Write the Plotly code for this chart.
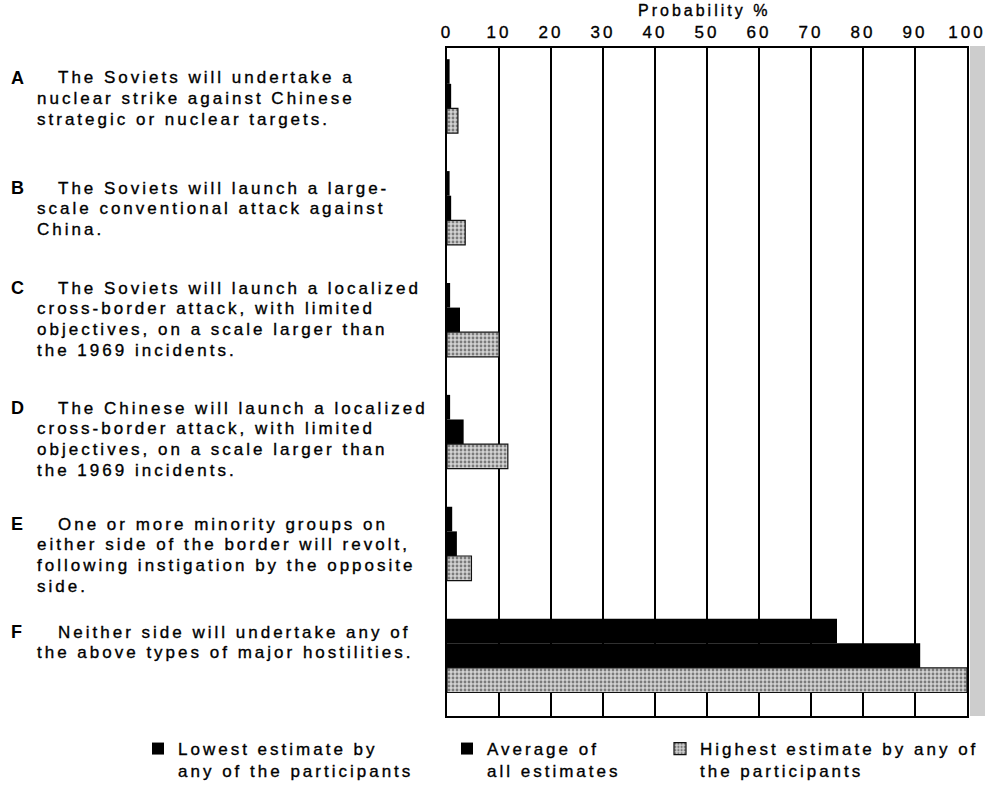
import plotly.graph_objects as go

# ---------------- data ----------------
CATEGORIES = ["A", "B", "C", "D", "E", "F"]
STATEMENTS = [
    ["The Soviets will undertake a", "nuclear strike against Chinese", "strategic or nuclear targets."],
    ["The Soviets will launch a large-", "scale conventional attack against", "China."],
    ["The Soviets will launch a localized", "cross-border attack, with limited",
     "objectives, on a scale larger than", "the 1969 incidents."],
    ["The Chinese will launch a localized", "cross-border attack, with limited",
     "objectives, on a scale larger than", "the 1969 incidents."],
    ["One or more minority groups on", "either side of the border will revolt,",
     "following instigation by the opposite", "side."],
    ["Neither side will undertake any of", "the above types of major hostilities."],
]
LOWEST = [0.5, 0.5, 0.6, 0.6, 1.0, 75]
AVERAGE = [0.8, 0.8, 2.5, 3.2, 1.9, 91]
HIGHEST = [2.1, 3.5, 10.0, 11.7, 4.7, 100]
SERIES_NAMES = [
    ["Lowest estimate by", "any of the participants"],
    ["Average of", "all estimates"],
    ["Highest estimate by any of", "the participants"],
]
TICK_VALUES = [0, 10, 20, 30, 40, 50, 60, 70, 80, 90, 100]
TICK_LABELS = ["0", "10", "20", "30", "40", "50", "60", "70", "80", "90", "100"]
AXIS_TITLE = "Probability %"

# ---------------- layout helpers ----------------
FONT = "Liberation Sans, Arial, Helvetica, sans-serif"
FS = 17
LS = 3.0  # letter spacing px (wide typesetting)
W, H = 985, 787
PL, PR, PT, PB = 447, 967, 48, 716
LINE_GAP = 20.8


def sp(s, ls=LS):
    return f"<span style='letter-spacing:{ls}px;stroke:#000;stroke-width:0.35px'>{s}</span>"


def lines(ls_):
    return "<br>".join(sp(s) for s in ls_)


def px(x):
    return (x - PL) / (PR - PL)


def py(y):
    return (PB - y) / (PB - PT)


fig = go.Figure()

fig.add_trace(go.Bar(
    y=CATEGORIES, x=LOWEST, orientation="h", name=lines(SERIES_NAMES[0]),
    marker=dict(color="#000000", line=dict(width=0)), legend="legend",
))
fig.add_trace(go.Bar(
    y=CATEGORIES, x=AVERAGE, orientation="h", name=lines(SERIES_NAMES[1]),
    marker=dict(color="#000000", line=dict(width=0)), legend="legend2",
))
fig.add_trace(go.Bar(
    y=CATEGORIES, x=HIGHEST, orientation="h", name=lines(SERIES_NAMES[2]),
    marker=dict(color="#c8c8c8", line=dict(width=1.2, color="#111111"),
                pattern=dict(shape=".", fgcolor="#222222", bgcolor="#d2d2d2",
                             size=4, solidity=0.4)),
    legend="legend3",
))

annotations = []
first_line_y = [78, 188, 288, 408, 524, 632]
for cat, stmt, fy in zip(CATEGORIES, STATEMENTS, first_line_y):
    annotations.append(dict(
        text=f"<b>{cat}</b>", x=px(9), y=py(fy), xref="paper", yref="paper",
        xanchor="left", yanchor="middle", showarrow=False,
        font=dict(family=FONT, size=18, color="#000"),
    ))
    for k, line in enumerate(stmt):
        annotations.append(dict(
            text=sp(line), x=px(56 if k == 0 else 35), y=py(fy + k * LINE_GAP),
            xref="paper", yref="paper", xanchor="left", yanchor="middle",
            align="left", showarrow=False,
            font=dict(family=FONT, size=FS, color="#000"),
        ))

# axis title as a centred label above the tick labels
annotations.append(dict(
    text=sp(AXIS_TITLE), x=px(704), y=py(0), xref="paper", yref="paper",
    xanchor="center", yanchor="top", showarrow=False,
    font=dict(family=FONT, size=16, color="#000"),
))

legend_common = dict(
    orientation="v", yanchor="top", xanchor="left", valign="top",
    bgcolor="rgba(0,0,0,0)", borderwidth=0,
    font=dict(family=FONT, size=FS, color="#000"), tracegroupgap=0,
)

fig.update_layout(
    width=W, height=H,
    margin=dict(l=PL, r=W - PR, t=PT, b=H - PB, pad=0, autoexpand=False),
    paper_bgcolor="#ffffff", plot_bgcolor="#ffffff",
    barmode="group", bargap=0.34, bargroupgap=0,
    showlegend=True,
    legend=dict(x=px(138), y=py(731), **legend_common),
    legend2=dict(x=px(447), y=py(731), **legend_common),
    legend3=dict(x=px(660), y=py(731), **legend_common),
    annotations=annotations,
    font=dict(family=FONT, size=FS, color="#000"),
    shapes=[dict(  # grey scan band at the right edge of the page
        type="rect", xref="paper", yref="paper", x0=px(970), x1=px(985),
        y0=py(716), y1=py(46), fillcolor="#cdcdcd", line=dict(width=0), layer="below",
    )],
)

fig.update_xaxes(
    side="top", range=[0, 100], tickmode="array", tickvals=TICK_VALUES,
    ticktext=[sp(t) for t in TICK_LABELS], ticks="", ticklabelstandoff=2,
    ticklabeloverflow="allow",
    showgrid=True, gridcolor="#000", gridwidth=1.6,
    showline=True, linecolor="#000", linewidth=1.6, mirror=True,
    zeroline=False, automargin=False,
    tickfont=dict(family=FONT, size=FS, color="#000"), fixedrange=True,
)
fig.update_yaxes(
    type="category", categoryorder="array", categoryarray=CATEGORIES,
    range=[5.54, -0.43], showticklabels=False, ticks="", showgrid=False,
    showline=True, linecolor="#000", linewidth=1.6, mirror=True, zeroline=False,
    fixedrange=True, automargin=False,
)

fig.write_html(
    "out.html",
    config={"displayModeBar": False, "staticPlot": True},
    post_script="document.body.style.margin='0';document.body.style.overflow='hidden';",
)
